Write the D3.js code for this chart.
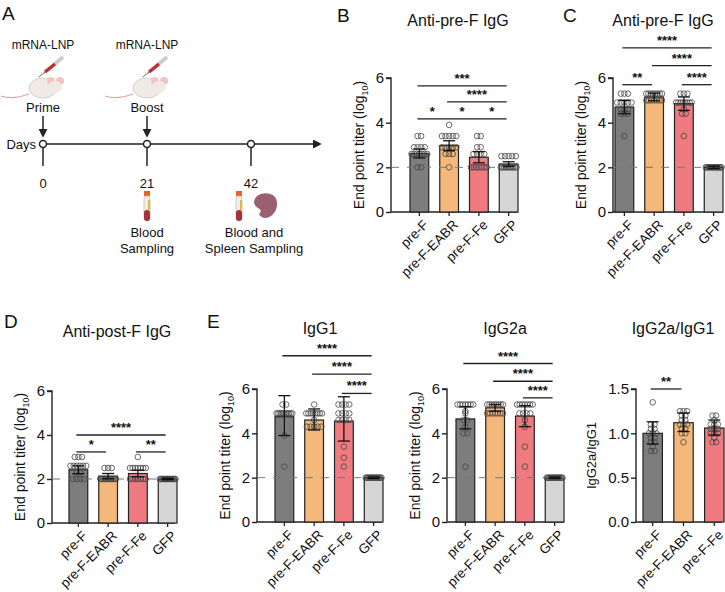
<!DOCTYPE html>
<html><head><meta charset="utf-8">
<script src="https://cdn.jsdelivr.net/npm/d3@7"></script>
<style>body{margin:0;background:#fff}text{font-family:Arial,"Liberation Sans",sans-serif;fill:#111}</style>
</head><body><svg id="c" width="725" height="592"></svg>
<script>
const groups4 = ["pre-F","pre-F-EABR","pre-F-Fe","GFP"];
const groups3 = ["pre-F","pre-F-EABR","pre-F-Fe"];
const colors = ["#7d7d7d","#f4b97a","#ef7b80","#d6d6d6"];
const titerTicks = [0,2,4,6];
const ratioTicks = [0,0.5,1.0,1.5];
const rep = (v,n)=>Array(n).fill(v);

const bMean=[2.62,2.97,2.45,2.15], bErr=[0.2,0.22,0.25,0.1];
const bDots=[[3.4,3.4,2.9,2.9,2.9,2.9,2.6,2.6,2.6,2.6,2.6,2.6,2.0,2.0,2.6],
 [3.9,3.4,3.4,3.4,3.4,3.4,2.9,2.9,2.9,2.9,2.9,2.6,2.6,2.0,2.6],
 [3.4,3.4,2.9,2.6,2.6,2.0,2.0,2.0,2.0,2.0,2.0,2.6,2.6,2.9,2.0],
 [2.5,2.5,2.5,2.5,2.5,2.0,2.0,2.0,2.0,2.0,2.0,2.0,2.0,2.0,2.0]];
const bSig=[[0,3,5.65,"***"],[1,3,4.93,"****"],[0,1,4.17,"*"],[1,2,4.17,"*"],[2,3,4.17,"*"]];

const cMean=[4.7,5.15,4.85,2.0], cErr=[0.3,0.17,0.3,0.05];
const cDots=[[5.3,5.3,5.3,4.9,4.9,4.9,4.9,4.6,4.6,4.6,4.4,4.4,4.4,3.4,4.9],
 [...rep(5.3,8),...rep(5.0,7)],
 [5.3,5.3,5.3,4.9,4.9,4.9,4.9,4.9,4.9,4.6,4.4,4.4,3.4,4.9,4.9],
 rep(2.0,15)];
const cSig=[[0,3,7.35,"****"],[1,3,6.55,"****"],[0,1,5.7,"**"],[2,3,5.7,"****"]];

const dMean=[2.42,2.13,2.25,2.0], dErr=[0.18,0.12,0.15,0.03];
const dDots=[[3.0,3.0,3.0,2.6,2.6,2.6,2.6,2.6,2.6,2.3,2.3,2.0,2.0,2.0,2.0],
 [2.5,2.5,2.5,...rep(2.0,12)],
 [3.0,...rep(2.5,7),...rep(2.0,7)],
 rep(2.0,15)];
const dSig=[[0,3,4.0,"****"],[0,1,3.23,"*"],[2,3,3.23,"**"]];

const e1Mean=[4.75,4.6,4.55,2.0], e1Lo=[3.9,4.15,3.65,1.97], e1Hi=[5.7,5.1,5.65,2.03];
const e1Dots=[[5.3,5.3,...rep(4.9,10),3.9,2.5,4.9],
 [5.3,...rep(4.9,8),4.6,...rep(4.3,5)],
 [...rep(5.3,4),...rep(4.9,4),...rep(4.6,4),3.4,2.9,2.5],
 rep(2.0,15)];
const e1Sig=[[0,3,7.5,"****"],[1,3,6.67,"****"],[2,3,5.8,"****"]];

const e2Mean=[4.65,5.15,4.78,2.0], e2Lo=[4.2,5.0,4.3,1.97], e2Hi=[5.2,5.3,5.25,2.03];
const e2Dots=[[...rep(5.3,6),4.9,4.6,4.6,4.3,4.0,4.0,2.5,5.0,5.3],
 [...rep(5.3,8),...rep(4.9,7)],
 [...rep(5.3,6),...rep(4.9,4),4.6,4.3,3.4,2.5,5.3],
 rep(2.0,15)];
const e2Sig=[[0,3,7.15,"****"],[1,3,6.35,"****"],[2,3,5.6,"****"]];

const rMean=[1.0,1.12,1.06], rLo=[0.88,1.02,0.98], rHi=[1.13,1.23,1.15];
const rDots=[[1.37,1.1,1.1,1.05,1.0,1.0,1.0,0.95,0.95,0.9,0.9,0.85,0.8,0.8,1.05],
 [1.25,1.25,1.25,1.2,1.15,1.1,1.1,1.1,1.05,1.05,1.0,1.0,0.9,1.2,1.15],
 [1.22,1.2,1.15,1.1,1.1,1.05,1.05,1.0,1.0,1.0,0.95,0.9,0.9,1.1,1.05]];
const rSig=[[0,1,1.5,"**"]];

const svg=d3.select("#c");

function panel(o){
  const g=svg.append("g");
  const n=o.cats.length;
  const x=d3.scaleBand().domain(o.cats).range([o.x0+o.pad,o.x0+o.pad+27*n]).paddingInner(0.37).paddingOuter(0);
  const xEnd=o.xEnd;
  const y=d3.scaleLinear().domain([0,o.ymax]).range([o.yb,o.yt]);
  const ax=g.append("g").attr("transform",`translate(${o.x0},0)`).call(d3.axisLeft(y).tickValues(o.ticks).tickSize(5).tickFormat(o.fmt));
  ax.select(".domain").attr("d",`M-5,${o.yt}H0V${o.yb}`).attr("stroke","#222").attr("stroke-width",1.4);
  ax.selectAll(".tick line").attr("stroke","#222").attr("stroke-width",1.4);
  ax.selectAll(".tick text").attr("font-size",15).attr("x",-7).attr("fill","#222");
  g.append("line").attr("x1",o.x0).attr("x2",xEnd).attr("y1",o.yb).attr("y2",o.yb).attr("stroke","#222").attr("stroke-width",1.4);
  const bw=x.bandwidth();
  o.cats.forEach((c,i)=>{
    g.append("rect").attr("x",x(c)).attr("width",bw).attr("y",y(o.mean[i])).attr("height",o.yb-y(o.mean[i]))
      .attr("fill",colors[i]).attr("stroke","#222").attr("stroke-width",1.2);
  });
  if(o.dash) g.append("line").attr("x1",o.x0).attr("x2",xEnd).attr("y1",y(2)).attr("y2",y(2))
      .attr("stroke","#777").attr("stroke-width",1).attr("stroke-dasharray","8,8");
  o.cats.forEach((c,i)=>{
    const cx=x(c)+bw/2;
    const bins=d3.group(o.dots[i],v=>Math.round(v*20)/20);
    bins.forEach((arr,v)=>{
      const k=arr.length, sp=Math.min(3.6,(bw-3)/Math.max(1,k-1));
      arr.forEach((_,j)=>{
        g.append("circle").attr("cx",cx+(j-(k-1)/2)*sp).attr("cy",y(v)).attr("r",2.8)
          .attr("fill","none").attr("stroke","#444").attr("stroke-width",0.8);
      });
    });
    const lo=o.lo?o.lo[i]:o.mean[i]-o.err[i], hi=o.hi?o.hi[i]:o.mean[i]+o.err[i];
    g.append("line").attr("x1",cx).attr("x2",cx).attr("y1",y(lo)).attr("y2",y(hi)).attr("stroke","#111").attr("stroke-width",1.3);
    [lo,hi].forEach(v=>g.append("line").attr("x1",cx-6).attr("x2",cx+6).attr("y1",y(v)).attr("y2",y(v)).attr("stroke","#111").attr("stroke-width",1.3));
    g.append("line").attr("x1",cx).attr("x2",cx).attr("y1",o.yb).attr("y2",o.yb+4).attr("stroke","#222").attr("stroke-width",1.3);
    g.append("text").attr("transform",`translate(${cx+3},${o.yb+7}) rotate(-45)`).attr("text-anchor","end")
      .attr("font-size",13.5).attr("dy","0.7em").text(c);
  });
  o.sig.forEach(([a,b,v,l])=>{
    const x1=x(o.cats[a])+bw/2-2, x2=x(o.cats[b])+bw/2-2;
    g.append("line").attr("x1",x1).attr("x2",x2).attr("y1",y(v)).attr("y2",y(v)).attr("stroke","#222").attr("stroke-width",1.3);
    g.append("text").attr("x",(x1+x2)/2).attr("y",y(v)-3).attr("text-anchor","middle").attr("font-size",13).attr("font-weight","bold").text(l);
  });
  const yl=g.append("text").attr("transform",`translate(${o.x0-o.ylx},${(o.yt+o.yb)/2}) rotate(-90)`).attr("text-anchor","middle").attr("font-size",o.ylfs||14);
  if(o.ratio) yl.text("IgG2a/IgG1");
  else { yl.append("tspan").text("End point titer (log"); yl.append("tspan").attr("font-size",9).attr("dy",4).text("10"); yl.append("tspan").attr("dy",-4).text(")"); }
  g.append("text").attr("x",o.tx).attr("y",o.ty).attr("text-anchor","middle").attr("font-size",16).text(o.title);
}
const fmtT=d3.format("d"), fmtR=d3.format(".1f");
panel({x0:391,pad:19,xEnd:518,yt:78,yb:212,ymax:6,ticks:titerTicks,fmt:fmtT,cats:groups4,mean:bMean,err:bErr,dots:bDots,sig:bSig,dash:true,ylx:27,tx:458,ty:26,title:"Anti-pre-F IgG"});
panel({x0:613,pad:2,xEnd:723,yt:78,yb:212,ymax:6,ticks:titerTicks,fmt:fmtT,cats:groups4,mean:cMean,err:cErr,dots:cDots,sig:cSig,dash:true,ylx:27,tx:663,ty:26,title:"Anti-pre-F IgG"});
panel({x0:52,pad:17,xEnd:175,yt:391,yb:523,ymax:6,ticks:titerTicks,fmt:fmtT,cats:groups4,mean:dMean,err:dErr,dots:dDots,sig:dSig,dash:true,ylx:27,tx:117,ty:337,title:"Anti-post-F IgG"});
panel({x0:257,pad:18,xEnd:382,yt:389,yb:522,ymax:6,ticks:titerTicks,fmt:fmtT,cats:groups4,mean:e1Mean,lo:e1Lo,hi:e1Hi,dots:e1Dots,sig:e1Sig,dash:true,ylx:27,tx:320,ty:334,title:"IgG1"});
panel({x0:447,pad:9,xEnd:564,yt:389,yb:522,ymax:6,ticks:titerTicks,fmt:fmtT,cats:groups4,mean:e2Mean,lo:e2Lo,hi:e2Hi,dots:e2Dots,sig:e2Sig,dash:true,ylx:27,tx:505,ty:334,title:"IgG2a"});
panel({x0:636,pad:7,xEnd:722,yt:389,yb:522,ymax:1.5,ticks:ratioTicks,fmt:fmtR,cats:groups3,mean:rMean,lo:rLo,hi:rHi,dots:rDots,sig:rSig,dash:false,ratio:true,ylx:40,ylfs:13,tx:673,ty:334,title:"IgG2a/IgG1"});

[["A",2,20],["B",337,22],["C",563,22],["D",4,328],["E",207,328]].forEach(([t,x,y])=>svg.append("text").attr("x",x).attr("y",y).attr("font-size",19).text(t));

const days=[0,21,42];
const tx=d3.scaleLinear().domain([0,42]).range([43,251]);
const A=svg.append("g");
A.append("defs").append("marker").attr("id","ah").attr("viewBox","0 0 10 10").attr("refX",8).attr("refY",5).attr("markerWidth",6).attr("markerHeight",6).attr("orient","auto")
 .append("path").attr("d","M0,0L10,5L0,10z").attr("fill","#222");
A.append("line").attr("x1",tx(0)).attr("x2",320).attr("y1",144).attr("y2",144).attr("stroke","#222").attr("stroke-width",1.5).attr("marker-end","url(#ah)");
days.forEach(d=>{
  A.append("line").attr("x1",tx(d)).attr("x2",tx(d)).attr("y1",144).attr("y2",166).attr("stroke","#222").attr("stroke-width",1.5);
  A.append("circle").attr("cx",tx(d)).attr("cy",144).attr("r",3.5).attr("fill","#fff").attr("stroke","#222").attr("stroke-width",1.5);
  A.append("text").attr("x",tx(d)).attr("y",188).attr("text-anchor","middle").attr("font-size",13).text(d);
});
A.append("text").attr("x",36).attr("y",149).attr("text-anchor","end").attr("font-size",13).text("Days");
[[0,"Prime"],[21,"Boost"]].forEach(([d,l])=>{
  const cx=tx(d);
  A.append("line").attr("x1",cx).attr("x2",cx).attr("y1",116).attr("y2",136).attr("stroke","#222").attr("stroke-width",1.5).attr("marker-end","url(#ah)");
  A.append("text").attr("x",cx).attr("y",112).attr("text-anchor","middle").attr("font-size",13).text(l);
  A.append("text").attr("x",cx).attr("y",49).attr("text-anchor","middle").attr("font-size",12).text("mRNA-LNP");
  A.append("line").attr("x1",cx+2).attr("y1",72).attr("x2",cx+20).attr("y2",57).attr("stroke","#ccc").attr("stroke-width",4);
  A.append("line").attr("x1",cx+2).attr("y1",72).attr("x2",cx+12).attr("y2",64).attr("stroke","#c0302a").attr("stroke-width",3);
  A.append("line").attr("x1",cx-4).attr("y1",77).attr("x2",cx+2).attr("y2",72).attr("stroke","#666").attr("stroke-width",1);
  A.append("path").attr("d",`M${cx-14},${94} Q${cx-30},${100} ${cx-42},${96}`).attr("fill","none").attr("stroke","#e8a0a0").attr("stroke-width",1.2);
  A.append("ellipse").attr("cx",cx).attr("cy",88).attr("rx",14).attr("ry",10).attr("fill","#efeae6").attr("stroke","#d8cfc8");
  A.append("circle").attr("cx",cx+8).attr("cy",81).attr("r",4).attr("fill","#f2c4c4");
  A.append("circle").attr("cx",cx+17).attr("cy",81).attr("r",4).attr("fill","#f2c4c4");
  A.append("ellipse").attr("cx",cx+12).attr("cy",87).attr("rx",7).attr("ry",6).attr("fill","#efeae6");
});
[tx(21),tx(42)-12].forEach(cx=>{
  A.append("rect").attr("x",cx-3).attr("y",191).attr("width",6).attr("height",5).attr("fill","#e8622c");
  A.append("rect").attr("x",cx-3).attr("y",196).attr("width",6).attr("height",25).attr("rx",3).attr("fill","#f5ede2").attr("stroke","#ccc");
  A.append("rect").attr("x",cx-3).attr("y",210).attr("width",6).attr("height",11).attr("rx",3).attr("fill","#a8303a");
  A.append("rect").attr("x",cx+1).attr("y",200).attr("width",2).attr("height",10).attr("fill","#e7b93a");
});
A.append("path").attr("d",`M${tx(42)+3},202 C${tx(42)+4},190 ${tx(42)+28},190 ${tx(42)+26},205 C${tx(42)+25},217 ${tx(42)+12},222 ${tx(42)+8},214 C${tx(42)+14},208 ${tx(42)+4},210 ${tx(42)+3},202Z`).attr("fill","#9a6070");
[[tx(21),["Blood","Sampling"]],[tx(42)+3,["Blood and","Spleen Sampling"]]].forEach(([cx,ls])=>ls.forEach((l,i)=>
  A.append("text").attr("x",cx).attr("y",237+i*16).attr("text-anchor","middle").attr("font-size",13).text(l)));
</script></body></html>
